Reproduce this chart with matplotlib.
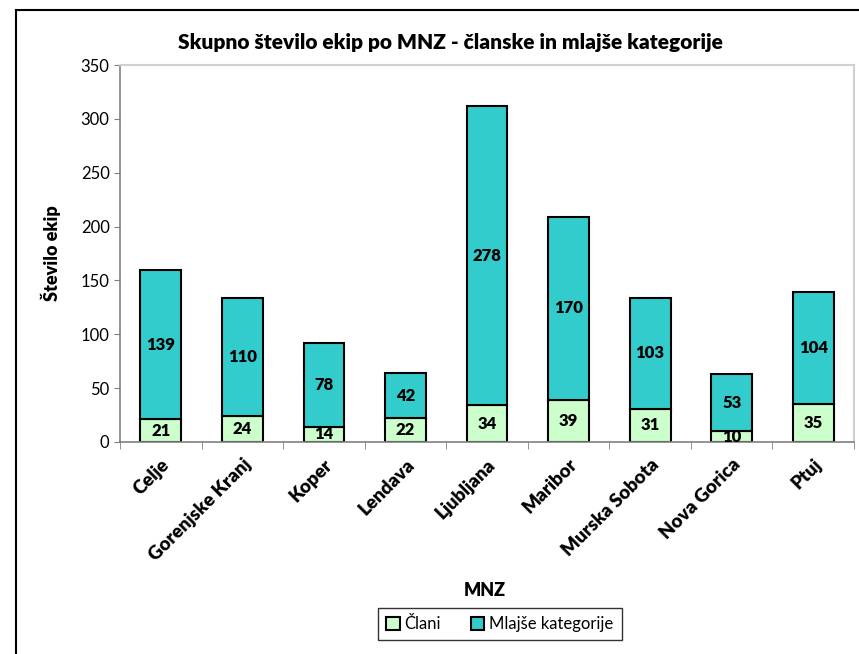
import numpy as np
import matplotlib.pyplot as plt
from matplotlib.patches import Rectangle

plt.rcParams['font.family'] = ['Lato', 'DejaVu Sans']

# Data
mnz = ['Celje', 'Gorenjske Kranj', 'Koper', 'Lendava', 'Ljubljana',
       'Maribor', 'Murska Sobota', 'Nova Gorica', 'Ptuj']
clani = [21, 24, 14, 22, 34, 39, 31, 10, 35]
mlajse = [139, 110, 78, 42, 278, 170, 103, 53, 104]

fig = plt.figure(figsize=(8.59, 6.54), dpi=100)
ax = fig.add_axes([120/859, 1-442/654, 734/859, 377/654])

x = np.arange(len(mnz))
b1 = ax.bar(x, clani, width=0.5, color='#CCFFCC', edgecolor='black', linewidth=1.5, label='Člani')
b2 = ax.bar(x, mlajse, width=0.5, bottom=clani, color='#33CCCC', edgecolor='black', linewidth=1.5,
            label='Mlajše kategorije')

# Value labels
for i in range(len(mnz)):
    ax.text(x[i], clani[i] / 2, str(clani[i]), ha='center', va='center', fontsize=12, fontweight='heavy')
    ax.text(x[i], clani[i] + mlajse[i] / 2, str(mlajse[i]), ha='center', va='center', fontsize=12,
            fontweight='heavy')

ax.set_xlim(-0.5, len(mnz) - 0.5)
ax.set_ylim(0, 350)
ax.set_yticks(range(0, 351, 50))
ax.tick_params(axis='y', labelsize=12, length=4, color='#808080')

ax.set_xticks(x)
ax.set_xticklabels(mnz, rotation=45, ha='right', rotation_mode='anchor', fontsize=13.5, fontweight='heavy')
ax.tick_params(axis='x', length=0, pad=10)
ax.set_xticks(np.arange(-0.5, len(mnz)), minor=True)
ax.tick_params(axis='x', which='minor', length=5, color='#808080')

for s in ['left', 'bottom']:
    ax.spines[s].set_color('#808080')
    ax.spines[s].set_linewidth(1.2)
for s in ['top', 'right']:
    ax.spines[s].set_color('#D0D0D0')
    ax.spines[s].set_linewidth(1.5)

ax.set_ylabel('Število ekip', fontsize=13, fontweight='heavy', labelpad=14)
fig.text(485/859, 1-590/654, 'MNZ', ha='center', va='center', fontsize=13, fontweight='heavy')
fig.suptitle('Skupno število ekip po MNZ - članske in mlajše kategorije', x=450/859, y=1-42/654,
             va='center', fontsize=15, fontweight='heavy')

leg = fig.legend(handles=[b1, b2], loc='center', bbox_to_anchor=(500/859, 1-624/654), ncol=2,
                 frameon=True, fancybox=False, edgecolor='black', fontsize=12,
                 handlelength=0.8, handleheight=0.8, handletextpad=0.3, columnspacing=1.8,
                 borderpad=0.5)
leg.get_frame().set_linewidth(1.0)

# Outer chart border
fig.patches.append(Rectangle((16/859, -0.05), 1.0, 1 - 10/654 + 0.05, transform=fig.transFigure,
                             fill=False, edgecolor='black', linewidth=1.5))

fig.savefig('out.png', dpi=100)
